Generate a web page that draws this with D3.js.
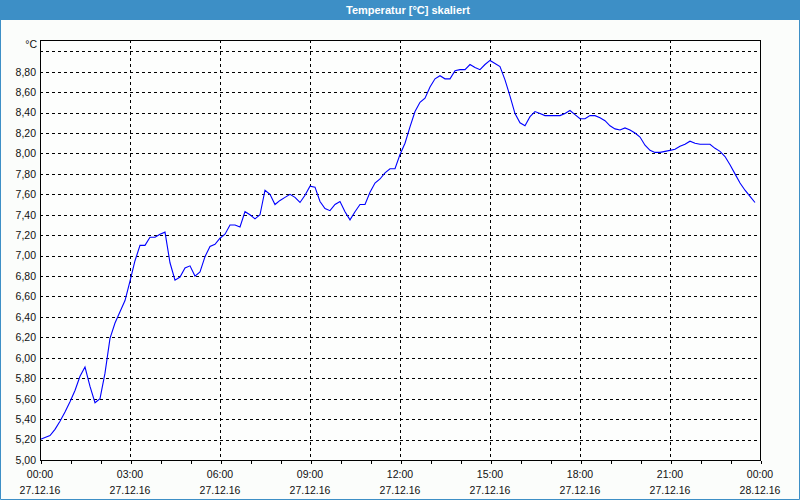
<!DOCTYPE html>
<html>
<head>
<meta charset="utf-8">
<script src="https://cdn.jsdelivr.net/npm/d3@7"></script>
<style>
  html, body { margin: 0; padding: 0; background: #fbfdfb; }
  svg { display: block; }
</style>
</head>
<body>
<svg id="chart" width="800" height="500"></svg>
<script>
// ---- data ----
const title = "Temperatur [°C] skaliert";
const unitLabel = "°C";
const startTime = "2016-12-27T00:00:00";
const intervalMinutes = 10;
const temperatures = [
  5.20, 5.22, 5.24, 5.30, 5.38, 5.47, 5.57, 5.68, 5.82, 5.91, 5.72, 5.56,
  5.60, 5.85, 6.19, 6.34, 6.45, 6.56, 6.75, 6.95, 7.10, 7.10, 7.18, 7.18,
  7.21, 7.23, 6.93, 6.76, 6.79, 6.88, 6.90, 6.80, 6.84, 6.99, 7.09, 7.11,
  7.17, 7.21, 7.30, 7.30, 7.28, 7.43, 7.40, 7.36, 7.40, 7.64, 7.60, 7.50,
  7.54, 7.57, 7.60, 7.57, 7.52, 7.59, 7.68, 7.67, 7.53, 7.46, 7.44, 7.50,
  7.53, 7.43, 7.35, 7.43, 7.50, 7.50, 7.62, 7.71, 7.75, 7.81, 7.85, 7.85,
  7.99, 8.10, 8.26, 8.41, 8.50, 8.54, 8.65, 8.73, 8.76, 8.73, 8.73, 8.81,
  8.82, 8.82, 8.87, 8.84, 8.82, 8.87, 8.91, 8.88, 8.85, 8.72, 8.56, 8.39,
  8.30, 8.27, 8.36, 8.41, 8.39, 8.37, 8.37, 8.37, 8.37, 8.39, 8.42, 8.38,
  8.34, 8.34, 8.37, 8.37, 8.35, 8.32, 8.27, 8.24, 8.23, 8.25, 8.23, 8.20,
  8.16, 8.08, 8.03, 8.01, 8.01, 8.02, 8.03, 8.04, 8.07, 8.09, 8.12, 8.10,
  8.09, 8.09, 8.09, 8.05, 8.02, 7.97, 7.89, 7.80, 7.71, 7.64, 7.58, 7.52
];
const yDomain = [5.0, 9.11];
const yTickValues = [5.0, 5.2, 5.4, 5.6, 5.8, 6.0, 6.2, 6.4, 6.6, 6.8, 7.0, 7.2,
                     7.4, 7.6, 7.8, 8.0, 8.2, 8.4, 8.6, 8.8, 9.0];
const yLabelledMax = 8.8;
const xDomain = ["2016-12-27T00:00:00", "2016-12-28T00:00:00"];
const xMajorHours = 3;

// ---- layout ----
const W = 800, H = 500;
const m = { left: 40, right: 40, top: 40, bottom: 40 };
const svg = d3.select("#chart");
const font = "'Liberation Sans', Arial, sans-serif";

const t0 = new Date(startTime);
const data = temperatures.map((v, i) => ({ t: new Date(t0.getTime() + i * intervalMinutes * 60000), v }));

const x = d3.scaleTime().domain(xDomain.map(d => new Date(d))).range([m.left, W - m.right]);
const y = d3.scaleLinear().domain(yDomain).range([H - m.bottom, m.top]);

// background
svg.append("rect").attr("x", 0).attr("y", 0).attr("width", W).attr("height", H).attr("fill", "#fbfdfb");
svg.append("rect").attr("x", m.left).attr("y", m.top)
  .attr("width", W - m.left - m.right).attr("height", H - m.top - m.bottom).attr("fill", "#fdfefd");

// title bar
svg.append("rect").attr("x", 0).attr("y", 0).attr("width", W).attr("height", 20).attr("fill", "#3d8fc6");
svg.append("text").attr("x", W / 2 + 8).attr("y", 14).attr("text-anchor", "middle")
  .attr("fill", "#ffffff").attr("font-family", font).attr("font-weight", "bold").attr("font-size", 11)
  .text(title);

// outer frame
svg.append("path").attr("d", `M0.5,20 V${H - 0.5} H${W - 0.5} V20`)
  .attr("fill", "none").attr("stroke", "#3d8fc6").attr("stroke-width", 1);

// grid
const hGrid = yTickValues.filter(v => v > yDomain[0] + 1e-9);
svg.append("g").selectAll("line").data(hGrid).join("line")
  .attr("x1", m.left).attr("x2", W - m.right)
  .attr("y1", d => Math.round(y(d)) + 0.5).attr("y2", d => Math.round(y(d)) + 0.5)
  .attr("stroke", "#000").attr("stroke-dasharray", "3,3").attr("shape-rendering", "crispEdges");

const majorTimes = x.ticks(d3.timeHour.every(xMajorHours));
const innerMajor = majorTimes.filter((d, i) => i > 0 && i < majorTimes.length - 1);
svg.append("g").selectAll("line").data(innerMajor).join("line")
  .attr("x1", d => Math.round(x(d)) + 0.5).attr("x2", d => Math.round(x(d)) + 0.5)
  .attr("y1", m.top).attr("y2", H - m.bottom)
  .attr("stroke", "#000").attr("stroke-dasharray", "3,3").attr("shape-rendering", "crispEdges");

// line
const line = d3.line().x(d => x(d.t)).y(d => y(d.v));
svg.append("path").datum(data).attr("d", line)
  .attr("fill", "none").attr("stroke", "#0000ff").attr("stroke-width", 1.1);

// plot border
svg.append("rect").attr("x", m.left + 0.5).attr("y", m.top + 0.5)
  .attr("width", W - m.left - m.right).attr("height", H - m.top - m.bottom)
  .attr("fill", "none").attr("stroke", "#000").attr("stroke-width", 1).attr("shape-rendering", "crispEdges");

// x axis (hourly ticks, labels every 3h)
const fmtTime = d3.timeFormat("%H:%M");
const fmtDate = d3.timeFormat("%d.%m.%y");
const xAxis = d3.axisBottom(x).ticks(d3.timeHour.every(1)).tickSize(3).tickFormat("");
const gx = svg.append("g").attr("transform", `translate(0.5,${H - m.bottom + 0.5})`).call(xAxis);
gx.select(".domain").remove();
gx.selectAll(".tick line").attr("stroke", "#000").attr("shape-rendering", "crispEdges");

const lbl = svg.append("g").attr("font-family", font).attr("font-size", 10.5).attr("fill", "#111");
lbl.selectAll("text.tm").data(majorTimes).join("text").attr("class", "tm")
  .attr("x", d => x(d)).attr("y", 477.5).attr("text-anchor", "middle").text(fmtTime);
lbl.selectAll("text.dt").data(majorTimes).join("text").attr("class", "dt")
  .attr("x", d => x(d)).attr("y", 493.5).attr("text-anchor", "middle").text(fmtDate);

// y axis labels
const fmtY = v => d3.format(".2f")(v).replace(".", ",");
const yAxis = d3.axisLeft(y).tickValues(yTickValues.filter(v => v <= yLabelledMax + 1e-9))
  .tickSize(0).tickPadding(4).tickFormat(fmtY);
const gy = svg.append("g").attr("transform", `translate(${m.left},0)`).call(yAxis);
gy.select(".domain").remove();
gy.selectAll("text").attr("font-family", font).attr("font-size", 10.5).attr("fill", "#111");

svg.append("text").attr("x", 37).attr("y", 48).attr("text-anchor", "end")
  .attr("font-family", font).attr("font-size", 10.5).attr("fill", "#111").text(unitLabel);
</script>
</body>
</html>
